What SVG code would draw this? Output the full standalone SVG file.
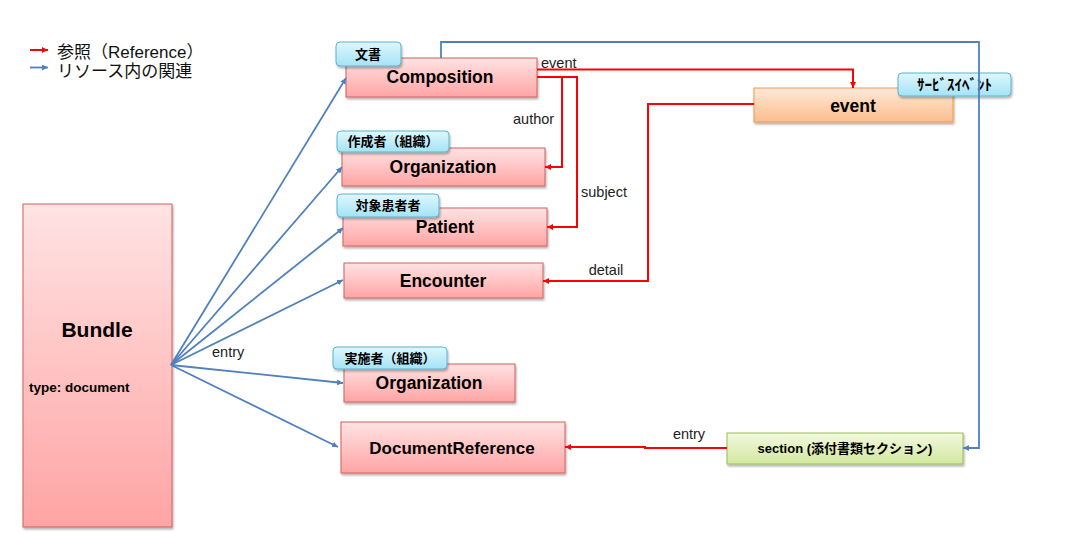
<svg xmlns="http://www.w3.org/2000/svg" width="1080" height="557" viewBox="0 0 1080 557">
<defs>
<linearGradient id="gPink" x1="0" y1="0" x2="0" y2="1"><stop offset="0" stop-color="#FFE3E3"/><stop offset="1" stop-color="#FFA4A4"/></linearGradient>
<linearGradient id="gOrange" x1="0" y1="0" x2="0" y2="1"><stop offset="0" stop-color="#FFE9D8"/><stop offset="1" stop-color="#FCBD8E"/></linearGradient>
<linearGradient id="gGreen" x1="0" y1="0" x2="0" y2="1"><stop offset="0" stop-color="#F2F9DE"/><stop offset="1" stop-color="#D3E7A0"/></linearGradient>
<linearGradient id="gTag" x1="0" y1="0" x2="0" y2="1"><stop offset="0" stop-color="#E0F7FD"/><stop offset="1" stop-color="#A3E3F6"/></linearGradient>
<filter id="sh" x="-10%" y="-10%" width="130%" height="140%"><feDropShadow dx="1" dy="2" stdDeviation="1.2" flood-color="#000" flood-opacity="0.3"/></filter>
<marker id="aRed" viewBox="0 0 6 6" refX="6" refY="3" markerWidth="6" markerHeight="6" markerUnits="userSpaceOnUse" orient="auto"><path d="M0,0 L6,3 L0,6 z" fill="#FF0000"/></marker>
<marker id="aBlue" viewBox="0 0 6 6" refX="6" refY="3" markerWidth="6" markerHeight="6" markerUnits="userSpaceOnUse" orient="auto"><path d="M0,0 L6,3 L0,6 z" fill="#4F81BD"/></marker>
</defs>
<style>
.box{fill:url(#gPink);stroke:#D0605C;stroke-width:1;filter:url(#sh)}
.ev{fill:url(#gOrange);stroke:#F79646;stroke-width:1;filter:url(#sh)}
.sec{fill:url(#gGreen);stroke:#9BBB59;stroke-width:1;filter:url(#sh)}
.tag{fill:url(#gTag);stroke:#5AB4D0;stroke-width:1;filter:url(#sh)}
.t{font-family:"Liberation Sans","Noto Sans CJK JP",sans-serif;font-weight:bold;font-size:17.5px;fill:#000;text-anchor:middle}
.tg{font-family:"Noto Sans CJK JP","Liberation Sans",sans-serif;font-weight:bold;font-size:13px;fill:#000;text-anchor:middle}
.lb{font-family:"Liberation Sans","Noto Sans CJK JP",sans-serif;font-size:14.5px;fill:#222}
.lg{font-family:"Liberation Sans","Noto Sans CJK JP",sans-serif;font-size:17px;fill:#111}
.r{fill:none;stroke:#FF0000;stroke-width:2}
.b{fill:none;stroke:#4F81BD;stroke-width:1.8}
</style>
<rect width="1080" height="557" fill="#FFFFFF"/>

<g id="legend">
<line class="r" x1="30" y1="50" x2="48" y2="50" marker-end="url(#aRed)"/>
<line class="b" x1="30" y1="67.5" x2="48" y2="67.5" marker-end="url(#aBlue)"/>
<text class="lg" x="57" y="57.5">参照（Reference）</text>
<text class="lg" x="57" y="77">リソース内の関連</text>
</g>

<g id="bundle">
<rect class="box" x="23" y="204" width="149" height="323"/>
<text class="t" x="97" y="337" style="font-size:21px">Bundle</text>
<text class="t" x="29" y="392" style="font-size:13.5px;text-anchor:start">type: document</text>
</g>

<g id="composition">
<rect class="box" x="346" y="58" width="191" height="39"/>
<text class="t" x="440" y="83">Composition</text>
<rect class="tag" x="336" y="42" width="65" height="24" rx="4"/>
<text class="tg" x="368" y="58.5">文書</text>
</g>

<g id="organization-author">
<rect class="box" x="342" y="148" width="203" height="38"/>
<text class="t" x="443" y="173">Organization</text>
<rect class="tag" x="337" y="131" width="112" height="21" rx="4"/>
<text class="tg" x="393" y="146">作成者（組織）</text>
</g>

<g id="patient">
<rect class="box" x="343" y="208" width="204" height="38"/>
<text class="t" x="445" y="233">Patient</text>
<rect class="tag" x="337" y="194" width="102" height="23" rx="4"/>
<text class="tg" x="388" y="210">対象患者者</text>
</g>

<g id="encounter">
<rect class="box" x="344" y="263" width="199" height="35"/>
<text class="t" x="443" y="287">Encounter</text>
</g>

<g id="organization-performer">
<rect class="box" x="344" y="364" width="171" height="38"/>
<text class="t" x="429" y="389">Organization</text>
<rect class="tag" x="333" y="347" width="114" height="22" rx="4"/>
<text class="tg" x="390" y="362.5">実施者（組織）</text>
</g>

<g id="documentreference">
<rect class="box" x="341" y="422" width="224" height="51"/>
<text class="t" x="452" y="454" style="font-size:17px">DocumentReference</text>
</g>

<g id="event">
<rect class="ev" x="754" y="88" width="199" height="34"/>
<text class="t" x="853" y="111.5">event</text>
<rect class="tag" x="898" y="73" width="113" height="23" rx="4"/>
<text class="tg" x="954.5" y="90" style="font-size:15px">ｻｰﾋﾞｽｲﾍﾞﾝﾄ</text>
</g>

<g id="section">
<rect class="sec" x="727" y="433" width="236" height="31"/>
<text class="t" x="845" y="452.5" style="font-size:13px">section (添付書類セクション)</text>
</g>

<g id="connectors">
<path class="b" d="M171,365 L346,78" marker-end="url(#aBlue)"/>
<path class="b" d="M171,365 L342,167" marker-end="url(#aBlue)"/>
<path class="b" d="M171,365 L343,228" marker-end="url(#aBlue)"/>
<path class="b" d="M171,365 L343,280" marker-end="url(#aBlue)"/>
<path class="b" d="M171,365 L343,383" marker-end="url(#aBlue)"/>
<path class="b" d="M171,365 L338,447" marker-end="url(#aBlue)"/>
<path class="b" d="M441,58 V42 H979 V448 H963" marker-end="url(#aBlue)"/>
<path class="r" d="M537,69.5 H853 V88" marker-end="url(#aRed)"/>
<path class="r" d="M537,77 H562 V167 H545" marker-end="url(#aRed)"/>
<path class="r" d="M562,77 H577 V227 H547" marker-end="url(#aRed)"/>
<path class="r" d="M754,104 H648 V281 H543" marker-end="url(#aRed)"/>
<path class="r" d="M727,448 H645 V447 H565" marker-end="url(#aRed)"/>
<text class="lb" x="541" y="68">event</text>
<text class="lb" x="513" y="124">author</text>
<text class="lb" x="581" y="197">subject</text>
<text class="lb" x="606" y="275" text-anchor="middle">detail</text>
<text class="lb" x="689" y="439" text-anchor="middle">entry</text>
<text class="lb" x="212" y="357">entry</text>
</g>
</svg>
